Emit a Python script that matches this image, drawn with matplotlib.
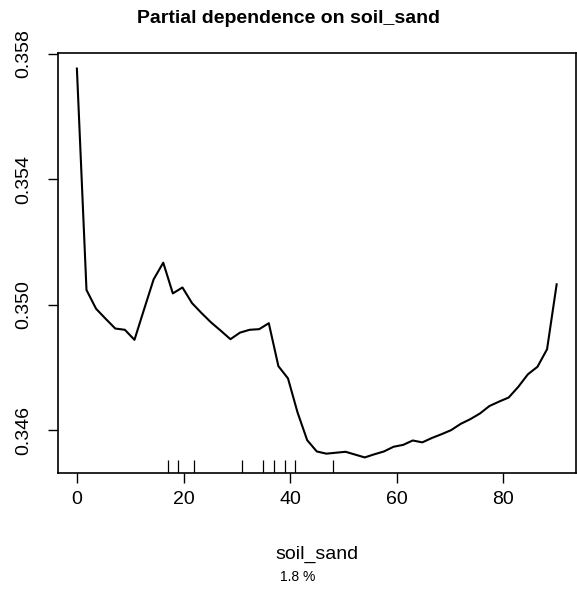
import matplotlib
matplotlib.use("Agg")
import matplotlib.pyplot as plt
import matplotlib.transforms as mtransforms

plt.rcParams['font.family'] = ['Liberation Sans', 'DejaVu Sans']

# partial dependence grid (soil_sand) and predicted response
sand = [0.0, 1.8, 3.6, 5.4, 7.2, 9.0, 10.8, 12.6, 14.4, 16.2,
        18.0, 19.8, 21.6, 23.4, 25.2, 27.0, 28.8, 30.6, 32.4, 34.2,
        36.0, 37.8, 39.6, 41.4, 43.2, 45.0, 46.8, 48.6, 50.4, 52.2,
        54.0, 55.8, 57.6, 59.4, 61.2, 63.0, 64.8, 66.6, 68.4, 70.2,
        72.0, 73.8, 75.6, 77.4, 79.2, 81.0, 82.8, 84.6, 86.4, 88.2,
        90.0]
pdep = [0.35753, 0.35047, 0.34987, 0.34955, 0.34924, 0.34920, 0.34888, 0.34985, 0.35081, 0.35134,
        0.35036, 0.35055, 0.35005, 0.34973, 0.34943, 0.34917, 0.34890, 0.34911, 0.34920, 0.34922,
        0.34941, 0.34804, 0.34765, 0.34656, 0.34568, 0.34532, 0.34525, 0.34528, 0.34531, 0.34522,
        0.34513, 0.34523, 0.34532, 0.34547, 0.34553, 0.34567, 0.34561, 0.34575, 0.34587, 0.34600,
        0.34620, 0.34635, 0.34653, 0.34677, 0.34691, 0.34704, 0.34738, 0.34778, 0.34802, 0.34858,
        0.35065]

# deciles shown as a rug
rug = [17, 19, 22, 31, 35, 37, 39, 41, 48]

xticks = [0, 20, 40, 60, 80]
yticks = [0.346, 0.350, 0.354, 0.358]
ytick_labels = ["0.346", "0.350", "0.354", "0.358"]

fig = plt.figure(figsize=(5.77, 5.93), dpi=100)
ax = fig.add_axes([0.1, 0.2024, 0.898, 0.7082])

ax.plot(sand, pdep, color="black", linewidth=1.5)

# rug along the bottom
trans = mtransforms.blended_transform_factory(ax.transData, ax.transAxes)
ax.vlines(rug, 0, 0.03, transform=trans, color="black", linewidth=0.9)

# R-style 4% padding
xr = max(sand) - min(sand)
yr = max(pdep) - min(pdep)
ax.set_xlim(min(sand) - 0.04 * xr, max(sand) + 0.04 * xr)
ax.set_ylim(min(pdep) - 0.04 * yr, max(pdep) + 0.04 * yr)

ax.set_xticks(xticks)
ax.set_xticklabels([str(t) for t in xticks])
ax.set_yticks(yticks)
ax.set_yticklabels(ytick_labels, rotation=90, va="center")

ax.tick_params(axis="both", direction="out", length=7, width=1.0,
               labelsize=14, color="black")
ax.tick_params(axis="x", pad=6)
ax.tick_params(axis="y", pad=11)
for s in ax.spines.values():
    s.set_linewidth(1.2)

ax.set_xlabel("soil_sand", fontsize=14, labelpad=27)
fig.text(0.5, 0.968, "Partial dependence on soil_sand", fontsize=14,
         fontweight="bold", ha="center", va="center")
fig.text(0.516, 0.027, "1.8 %", fontsize=10, ha="center", va="center")

fig.savefig("out.png", dpi=100)
